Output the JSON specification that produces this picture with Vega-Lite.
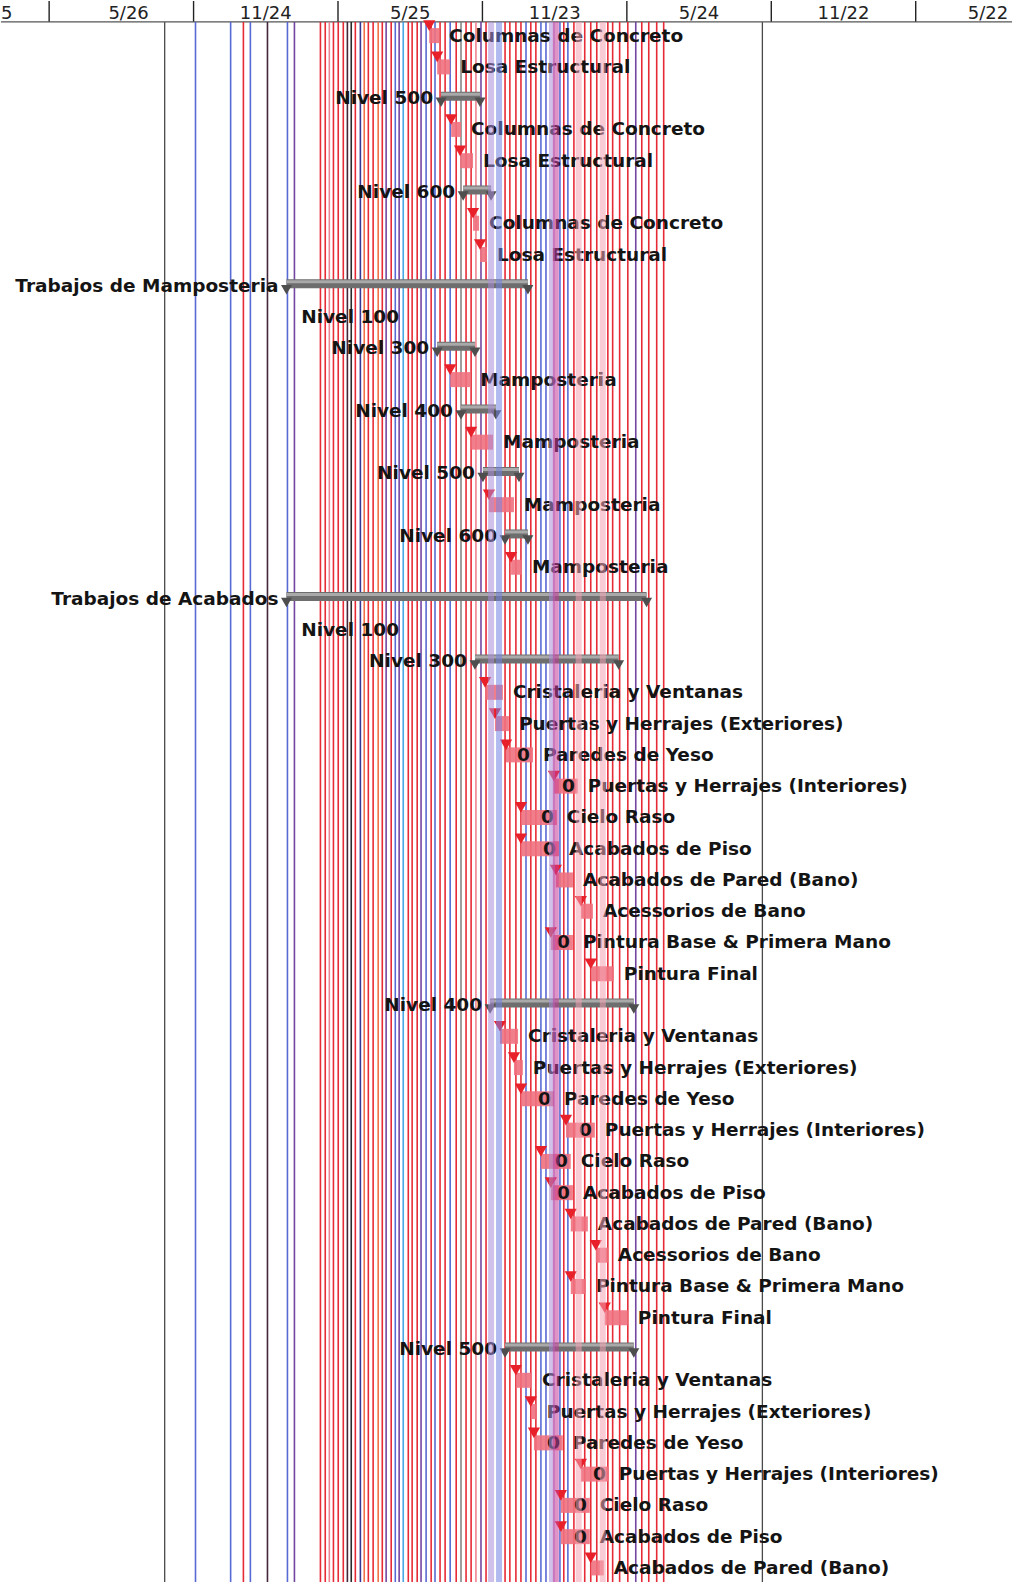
{
  "$schema": "https://vega.github.io/schema/vega-lite/v6.json",
  "width": 1013,
  "height": 1585,
  "autosize": {"type": "fit", "contains": "padding"},
  "padding": 0,
  "background": "white",
  "config": {"view": {"stroke": null}},
  "datasets": {
    "filas": [
      {"fila": 0, "nombre": "Columnas de Concreto", "tipo": "tarea", "inicio": 17.79, "fin": 18.2},
      {"fila": 1, "nombre": "Losa Estructural", "tipo": "tarea", "inicio": 18.12, "fin": 18.66},
      {"fila": 2, "nombre": "Nivel 500", "tipo": "resumen", "inicio": 18.28, "fin": 19.9},
      {"fila": 3, "nombre": "Columnas de Concreto", "tipo": "tarea", "inicio": 18.7, "fin": 19.11},
      {"fila": 4, "nombre": "Losa Estructural", "tipo": "tarea", "inicio": 19.07, "fin": 19.61},
      {"fila": 5, "nombre": "Nivel 600", "tipo": "resumen", "inicio": 19.2, "fin": 20.36},
      {"fila": 6, "nombre": "Columnas de Concreto", "tipo": "tarea", "inicio": 19.61, "fin": 19.86},
      {"fila": 7, "nombre": "Losa Estructural", "tipo": "tarea", "inicio": 19.9, "fin": 20.19},
      {"fila": 8, "nombre": "Trabajos de Mamposteria", "tipo": "resumen", "inicio": 11.86, "fin": 21.89},
      {"fila": 9, "nombre": "Nivel 100", "tipo": "resumen", "inicio": 16.87, "fin": null},
      {"fila": 10, "nombre": "Nivel 300", "tipo": "resumen", "inicio": 18.12, "fin": 19.69},
      {"fila": 11, "nombre": "Mamposteria", "tipo": "tarea", "inicio": 18.66, "fin": 19.49},
      {"fila": 12, "nombre": "Nivel 400", "tipo": "resumen", "inicio": 19.11, "fin": 20.56},
      {"fila": 13, "nombre": "Mamposteria", "tipo": "tarea", "inicio": 19.53, "fin": 20.44},
      {"fila": 14, "nombre": "Nivel 500", "tipo": "resumen", "inicio": 20.02, "fin": 21.52},
      {"fila": 15, "nombre": "Mamposteria", "tipo": "tarea", "inicio": 20.27, "fin": 21.31},
      {"fila": 16, "nombre": "Nivel 600", "tipo": "resumen", "inicio": 20.94, "fin": 21.89},
      {"fila": 17, "nombre": "Mamposteria", "tipo": "tarea", "inicio": 21.19, "fin": 21.64},
      {"fila": 18, "nombre": "Trabajos de Acabados", "tipo": "resumen", "inicio": 11.86, "fin": 26.82},
      {"fila": 19, "nombre": "Nivel 100", "tipo": "resumen", "inicio": 16.87, "fin": null},
      {"fila": 20, "nombre": "Nivel 300", "tipo": "resumen", "inicio": 19.69, "fin": 25.66},
      {"fila": 21, "nombre": "Cristaleria y Ventanas", "tipo": "tarea", "inicio": 20.11, "fin": 20.85},
      {"fila": 22, "nombre": "Puertas y Herrajes (Exteriores)", "tipo": "tarea", "inicio": 20.52, "fin": 21.1},
      {"fila": 23, "nombre": "Paredes de Yeso", "tipo": "tarea", "inicio": 20.98, "fin": 22.1, "prefijo": "0"},
      {"fila": 24, "nombre": "Puertas y Herrajes  (Interiores)", "tipo": "tarea", "inicio": 22.97, "fin": 23.96, "prefijo": "0"},
      {"fila": 25, "nombre": "Cielo Raso", "tipo": "tarea", "inicio": 21.6, "fin": 23.09, "prefijo": "0"},
      {"fila": 26, "nombre": "Acabados de Piso", "tipo": "tarea", "inicio": 21.6, "fin": 23.18, "prefijo": "0"},
      {"fila": 27, "nombre": "Acabados de Pared (Bano)", "tipo": "tarea", "inicio": 23.05, "fin": 23.76},
      {"fila": 28, "nombre": "Acessorios de Bano", "tipo": "tarea", "inicio": 24.09, "fin": 24.59},
      {"fila": 29, "nombre": "Pintura Base & Primera Mano", "tipo": "tarea", "inicio": 22.84, "fin": 23.76, "prefijo": "0"},
      {"fila": 30, "nombre": "Pintura Final", "tipo": "tarea", "inicio": 24.5, "fin": 25.46},
      {"fila": 31, "nombre": "Nivel 400", "tipo": "resumen", "inicio": 20.32, "fin": 26.29},
      {"fila": 32, "nombre": "Cristaleria y Ventanas", "tipo": "tarea", "inicio": 20.73, "fin": 21.48},
      {"fila": 33, "nombre": "Puertas y Herrajes (Exteriores)", "tipo": "tarea", "inicio": 21.31, "fin": 21.68},
      {"fila": 34, "nombre": "Paredes de Yeso", "tipo": "tarea", "inicio": 21.6, "fin": 22.97, "prefijo": "0"},
      {"fila": 35, "nombre": "Puertas y Herrajes  (Interiores)", "tipo": "tarea", "inicio": 23.47, "fin": 24.67, "prefijo": "0"},
      {"fila": 36, "nombre": "Cielo Raso", "tipo": "tarea", "inicio": 22.43, "fin": 23.67, "prefijo": "0"},
      {"fila": 37, "nombre": "Acabados de Piso", "tipo": "tarea", "inicio": 22.84, "fin": 23.76, "prefijo": "0"},
      {"fila": 38, "nombre": "Acabados de Pared (Bano)", "tipo": "tarea", "inicio": 23.67, "fin": 24.38},
      {"fila": 39, "nombre": "Acessorios de Bano", "tipo": "tarea", "inicio": 24.71, "fin": 25.21},
      {"fila": 40, "nombre": "Pintura Base & Primera Mano", "tipo": "tarea", "inicio": 23.67, "fin": 24.3},
      {"fila": 41, "nombre": "Pintura Final", "tipo": "tarea", "inicio": 25.08, "fin": 26.04},
      {"fila": 42, "nombre": "Nivel 500", "tipo": "resumen", "inicio": 20.94, "fin": 26.29},
      {"fila": 43, "nombre": "Cristaleria y Ventanas", "tipo": "tarea", "inicio": 21.39, "fin": 22.06},
      {"fila": 44, "nombre": "Puertas y Herrajes (Exteriores)", "tipo": "tarea", "inicio": 22.01, "fin": 22.26},
      {"fila": 45, "nombre": "Paredes de Yeso", "tipo": "tarea", "inicio": 22.14, "fin": 23.34, "prefijo": "0"},
      {"fila": 46, "nombre": "Puertas y Herrajes  (Interiores)", "tipo": "tarea", "inicio": 24.09, "fin": 25.25, "prefijo": "0"},
      {"fila": 47, "nombre": "Cielo Raso", "tipo": "tarea", "inicio": 23.26, "fin": 24.46, "prefijo": "0"},
      {"fila": 48, "nombre": "Acabados de Piso", "tipo": "tarea", "inicio": 23.26, "fin": 24.46, "prefijo": "0"},
      {"fila": 49, "nombre": "Acabados de Pared (Bano)", "tipo": "tarea", "inicio": 24.5, "fin": 25.04}
    ],
    "lineas": [
      {"m": 8.08, "c": "azul"}, {"m": 9.54, "c": "azul"}, {"m": 10.07, "c": "rojo"}, {"m": 10.36, "c": "azul"},
      {"m": 11.07, "c": "oscuro"}, {"m": 11.9, "c": "azul"}, {"m": 12.19, "c": "morado"},
      {"m": 13.27, "c": "rojo"}, {"m": 13.47, "c": "rojo"}, {"m": 13.64, "c": "rosa"}, {"m": 13.81, "c": "rojo"},
      {"m": 14.01, "c": "rojo"}, {"m": 14.22, "c": "rojo"}, {"m": 14.39, "c": "oscuro"}, {"m": 14.55, "c": "negro"},
      {"m": 14.72, "c": "rojo"}, {"m": 14.93, "c": "azuloscuro"}, {"m": 15.09, "c": "naranja"}, {"m": 15.26, "c": "rojo"},
      {"m": 15.46, "c": "rojo"}, {"m": 15.67, "c": "naranja"}, {"m": 15.84, "c": "rojo"}, {"m": 16.0, "c": "morado"},
      {"m": 16.21, "c": "rojo"}, {"m": 16.38, "c": "azul"}, {"m": 16.54, "c": "morado"}, {"m": 16.71, "c": "cian"},
      {"m": 16.92, "c": "rojo"}, {"m": 17.08, "c": "rojo"}, {"m": 17.29, "c": "rojo"}, {"m": 17.45, "c": "morado"},
      {"m": 17.66, "c": "azul"}, {"m": 17.87, "c": "rojo"}, {"m": 18.03, "c": "azul"}, {"m": 18.24, "c": "rojo"},
      {"m": 18.45, "c": "rojo"}, {"m": 18.66, "c": "azul"}, {"m": 18.91, "c": "rojo"}, {"m": 19.11, "c": "gris"},
      {"m": 19.32, "c": "rojo"}, {"m": 19.53, "c": "rojo"}, {"m": 19.73, "c": "rosa"}, {"m": 19.94, "c": "morado"},
      {"m": 20.15, "c": "rojo"}, {"m": 20.36, "c": "lavanda"}, {"m": 20.69, "c": "azulclaro"}, {"m": 20.94, "c": "rojo"},
      {"m": 21.14, "c": "rojo"}, {"m": 21.39, "c": "rojo"}, {"m": 21.6, "c": "rojo"}, {"m": 21.81, "c": "azul"},
      {"m": 22.01, "c": "rojo"}, {"m": 22.22, "c": "rojo"}, {"m": 22.43, "c": "azul"}, {"m": 22.64, "c": "azul"},
      {"m": 22.89, "c": "lavanda"}, {"m": 23.05, "c": "magenta"}, {"m": 23.22, "c": "azul"}, {"m": 23.38, "c": "rojo"},
      {"m": 23.55, "c": "azul"}, {"m": 23.8, "c": "rojo"}, {"m": 24.0, "c": "rosaclaro"}, {"m": 24.25, "c": "rojo"},
      {"m": 24.5, "c": "rojo"}, {"m": 24.75, "c": "rojo"}, {"m": 25.0, "c": "rosaclaro"}, {"m": 25.21, "c": "rojo"},
      {"m": 25.41, "c": "rojo"}, {"m": 25.7, "c": "rojo"}, {"m": 26.04, "c": "rojo"}, {"m": 26.37, "c": "morado"},
      {"m": 26.62, "c": "rojo"}, {"m": 26.91, "c": "rojo"}, {"m": 27.24, "c": "rojo"}, {"m": 27.53, "c": "rojo"}
    ],
    "cabecera": [
      {"m": 5.3, "t": "5/26"}, {"m": 11, "t": "11/24"}, {"m": 17, "t": "5/25"},
      {"m": 23, "t": "11/23"}, {"m": 29, "t": "5/24"}, {"m": 35, "t": "11/22"}, {"m": 41, "t": "5/22"}
    ],
    "divisiones": [{"m": 2}, {"m": 8}, {"m": 14}, {"m": 20}, {"m": 26}, {"m": 32}, {"m": 38}],
    "rejilla": [{"m": 6.8}, {"m": 31.63}]
  },
  "layer": [
    {
      "data": {"name": "rejilla"},
      "mark": {"type": "rule", "color": "#4a4a4a", "strokeWidth": 1.3},
      "encoding": {
        "x": {"field": "m", "type": "quantitative", "scale": {"domain": [0, 42], "nice": false, "zero": false}, "axis": null},
        "y": {"datum": -0.437, "type": "quantitative", "scale": {"domain": [-1.107, 49.45], "nice": false, "zero": false, "reverse": true}, "axis": null},
        "y2": {"datum": 49.45}
      }
    },
    {
      "data": {"name": "divisiones"},
      "mark": {"type": "rule", "color": "#222222", "strokeWidth": 1.4},
      "encoding": {
        "x": {"field": "m", "type": "quantitative"},
        "y": {"datum": -1.107, "type": "quantitative"},
        "y2": {"datum": -0.437}
      }
    },
    {
      "data": {"values": [{"a": 0, "b": 42}]},
      "mark": {"type": "rule", "color": "#555555", "strokeWidth": 1.3},
      "encoding": {
        "x": {"field": "a", "type": "quantitative"},
        "x2": {"field": "b"},
        "y": {"datum": -0.437, "type": "quantitative"}
      }
    },
    {
      "data": {"name": "cabecera"},
      "mark": {"type": "text", "font": "DejaVu Sans", "fontSize": 18, "color": "#222222", "baseline": "middle", "align": "center", "clip": true},
      "encoding": {
        "x": {"field": "m", "type": "quantitative"},
        "y": {"datum": -0.7, "type": "quantitative"},
        "text": {"field": "t"}
      }
    },
    {
      "data": {"values": [{"m": 0, "t": "5"}]},
      "mark": {"type": "text", "font": "DejaVu Sans", "fontSize": 18, "color": "#222222", "baseline": "middle", "align": "left", "dx": 0},
      "encoding": {
        "x": {"field": "m", "type": "quantitative"},
        "y": {"datum": -0.7, "type": "quantitative"},
        "text": {"field": "t"}
      }
    },
    {
      "data": {"name": "lineas"},
      "transform": [{"filter": "indexof(['lavanda','azulclaro','magenta','rosaclaro'], datum.c) < 0"}],
      "mark": {"type": "rule", "strokeWidth": 1.6, "opacity": 0.95},
      "encoding": {
        "x": {"field": "m", "type": "quantitative"},
        "y": {"datum": -0.437, "type": "quantitative"},
        "y2": {"datum": 49.45},
        "color": {
          "field": "c", "type": "nominal", "legend": null,
          "scale": {
            "domain": ["rojo", "rosa", "naranja", "azul", "azuloscuro", "morado", "oscuro", "negro", "cian", "gris", "lavanda", "azulclaro", "magenta", "rosaclaro"],
            "range": ["#e6202b", "#ef7d8c", "#ef6a3c", "#4f62d2", "#2b2a8e", "#6b3c9c", "#3b1b30", "#1f1f1f", "#3ea2e4", "#808080", "#a98ed8", "#7384e4", "#c23c98", "#f4a3b3"]
          }
        }
      }
    },
    {
      "data": {"name": "filas"},
      "transform": [{"filter": "datum.tipo == 'resumen' && isValid(datum.fin)"}],
      "mark": {"type": "rule", "color": "#6e6e6e", "strokeWidth": 9, "yOffset": -2},
      "encoding": {
        "x": {"field": "inicio", "type": "quantitative"},
        "x2": {"field": "fin"},
        "y": {"field": "fila", "type": "quantitative"}
      }
    },
    {
      "data": {"name": "filas"},
      "transform": [{"filter": "datum.tipo == 'resumen' && isValid(datum.fin)"}],
      "mark": {"type": "rule", "color": "#a9a9a9", "strokeWidth": 3, "yOffset": -4},
      "encoding": {
        "x": {"field": "inicio", "type": "quantitative"},
        "x2": {"field": "fin"},
        "y": {"field": "fila", "type": "quantitative"}
      }
    },
    {
      "data": {"name": "filas"},
      "transform": [{"filter": "datum.tipo == 'resumen' && isValid(datum.fin)"}],
      "mark": {"type": "point", "shape": "triangle-down", "filled": true, "color": "#4e4e4e", "size": 120, "yOffset": 4, "opacity": 1},
      "encoding": {
        "x": {"field": "inicio", "type": "quantitative"},
        "y": {"field": "fila", "type": "quantitative"}
      }
    },
    {
      "data": {"name": "filas"},
      "transform": [{"filter": "datum.tipo == 'resumen' && isValid(datum.fin)"}],
      "mark": {"type": "point", "shape": "triangle-down", "filled": true, "color": "#4e4e4e", "size": 120, "yOffset": 4, "opacity": 1},
      "encoding": {
        "x": {"field": "fin", "type": "quantitative"},
        "y": {"field": "fila", "type": "quantitative"}
      }
    },
    {
      "data": {"name": "filas"},
      "transform": [{"filter": "datum.tipo == 'tarea'"}],
      "mark": {"type": "rule", "color": "#f0707e", "strokeWidth": 15, "opacity": 0.9},
      "encoding": {
        "x": {"field": "inicio", "type": "quantitative"},
        "x2": {"field": "fin"},
        "y": {"field": "fila", "type": "quantitative"}
      }
    },
    {
      "data": {"name": "filas"},
      "transform": [{"filter": "datum.tipo == 'tarea'"}],
      "mark": {"type": "point", "shape": "triangle-down", "filled": true, "color": "#e8202a", "size": 150, "yOffset": -10, "opacity": 1},
      "encoding": {
        "x": {"field": "inicio", "type": "quantitative"},
        "y": {"field": "fila", "type": "quantitative"}
      }
    },
    {
      "data": {"name": "filas"},
      "transform": [{"filter": "datum.tipo == 'tarea'"}],
      "mark": {"type": "text", "font": "DejaVu Sans", "fontWeight": "bold", "fontSize": 18.5, "color": "#141414", "align": "left", "baseline": "middle", "dx": 10},
      "encoding": {
        "x": {"field": "fin", "type": "quantitative"},
        "y": {"field": "fila", "type": "quantitative"},
        "text": {"field": "nombre"}
      }
    },
    {
      "data": {"name": "filas"},
      "transform": [{"filter": "isValid(datum.prefijo)"}],
      "mark": {"type": "text", "font": "DejaVu Sans", "fontWeight": "bold", "fontSize": 18.5, "color": "#141414", "align": "right", "baseline": "middle", "dx": -3},
      "encoding": {
        "x": {"field": "fin", "type": "quantitative"},
        "y": {"field": "fila", "type": "quantitative"},
        "text": {"field": "prefijo"}
      }
    },
    {
      "data": {"name": "filas"},
      "transform": [{"filter": "datum.tipo == 'resumen'"}],
      "mark": {"type": "text", "font": "DejaVu Sans", "fontWeight": "bold", "fontSize": 18.5, "color": "#141414", "align": "right", "baseline": "middle", "dx": -8},
      "encoding": {
        "x": {"field": "inicio", "type": "quantitative"},
        "y": {"field": "fila", "type": "quantitative"},
        "text": {"field": "nombre"}
      }
    },
    {
      "data": {"name": "lineas"},
      "transform": [{"filter": "indexof(['lavanda','azulclaro','magenta','rosaclaro'], datum.c) >= 0"}],
      "mark": {"type": "rule", "strokeWidth": 6, "opacity": 0.55},
      "encoding": {
        "x": {"field": "m", "type": "quantitative"},
        "y": {"datum": -0.437, "type": "quantitative"},
        "y2": {"datum": 49.45},
        "color": {
          "field": "c", "type": "nominal", "legend": null,
          "scale": {
            "domain": ["rojo", "rosa", "naranja", "azul", "azuloscuro", "morado", "oscuro", "negro", "cian", "gris", "lavanda", "azulclaro", "magenta", "rosaclaro"],
            "range": ["#e6202b", "#ef7d8c", "#ef6a3c", "#4f62d2", "#2b2a8e", "#6b3c9c", "#3b1b30", "#1f1f1f", "#3ea2e4", "#808080", "#a98ed8", "#7384e4", "#c23c98", "#f4a3b3"]
          }
        }
      }
    }
  ]
}
